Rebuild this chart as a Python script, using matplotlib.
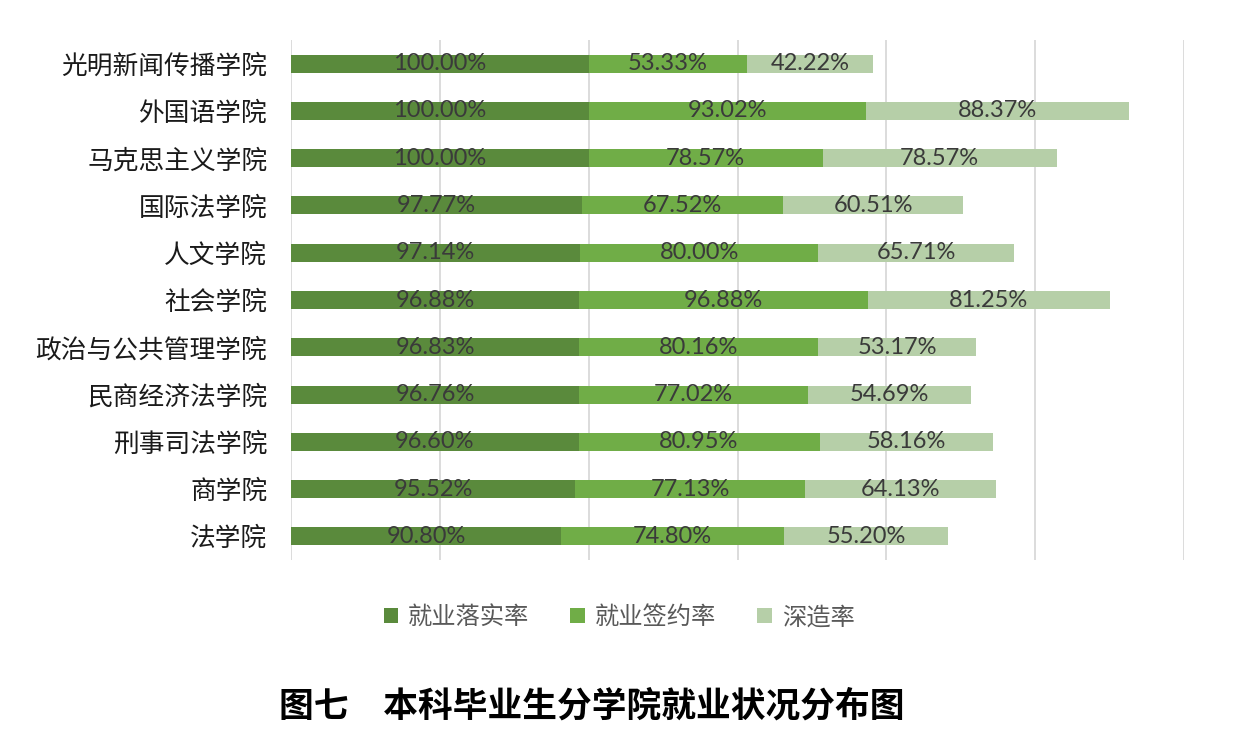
import matplotlib.pyplot as plt
import numpy as np

plt.rcParams['font.family'] = ['Noto Sans CJK SC', 'DejaVu Sans']

# data, top to bottom as in the picture
colleges = ['光明新闻传播学院', '外国语学院', '马克思主义学院', '国际法学院', '人文学院',
            '社会学院', '政治与公共管理学院', '民商经济法学院', '刑事司法学院', '商学院', '法学院']
luoshi = [100.00, 100.00, 100.00, 97.77, 97.14, 96.88, 96.83, 96.76, 96.60, 95.52, 90.80]
qianyue = [53.33, 93.02, 78.57, 67.52, 80.00, 96.88, 80.16, 77.02, 80.95, 77.13, 74.80]
shenzao = [42.22, 88.37, 78.57, 60.51, 65.71, 81.25, 53.17, 54.69, 58.16, 64.13, 55.20]
series_names = ['就业落实率', '就业签约率', '深造率']
colors = ['#5A8A3C', '#70AD47', '#B6CFA8']
title = '图七\u3000本科毕业生分学院就业状况分布图'

fig = plt.figure(figsize=(12.38, 7.48), dpi=100)
ax = fig.add_axes([0.235, 0.2513, 0.7215, 0.6952])

y = np.arange(len(colleges))
left = np.zeros(len(colleges))
for vals, name, c in zip([luoshi, qianyue, shenzao], series_names, colors):
    vals = np.array(vals)
    ax.barh(y, vals, left=left, height=0.38, color=c, label=name, zorder=2)
    for yi, l, v in zip(y, left, vals):
        ax.text(l + v / 2, yi, f'{v:.2f}%', ha='center', va='center',
                fontsize=17, color='#3a3a3a', family=['Lato', 'DejaVu Sans'], zorder=3)
    left = left + vals

ax.set_xlim(0, 300)
ax.set_ylim(len(colleges) - 0.5, -0.5)
ax.set_xticks(np.arange(0, 301, 50))
ax.set_xticklabels([])
ax.tick_params(axis='x', length=0)
ax.tick_params(axis='y', length=0, pad=17)
ax.set_yticks(y)
ax.set_yticklabels(colleges, fontsize=18.5, color='#1a1a1a')
ax.grid(axis='x', color='#d9d9d9', linewidth=1.3, zorder=0)
for s in ax.spines.values():
    s.set_visible(False)

leg = fig.legend(loc='center', bbox_to_anchor=(0.5, 0.175), ncol=3, frameon=False,
                 fontsize=17.5, handlelength=0.6, handleheight=0.6, handletextpad=0.4,
                 columnspacing=1.7)
for t in leg.get_texts():
    t.set_color('#595959')

fig.text(0.478, 0.056, title, ha='center', va='center', fontsize=25,
         fontweight='bold', color='black')

fig.savefig('out.png', dpi=100)
